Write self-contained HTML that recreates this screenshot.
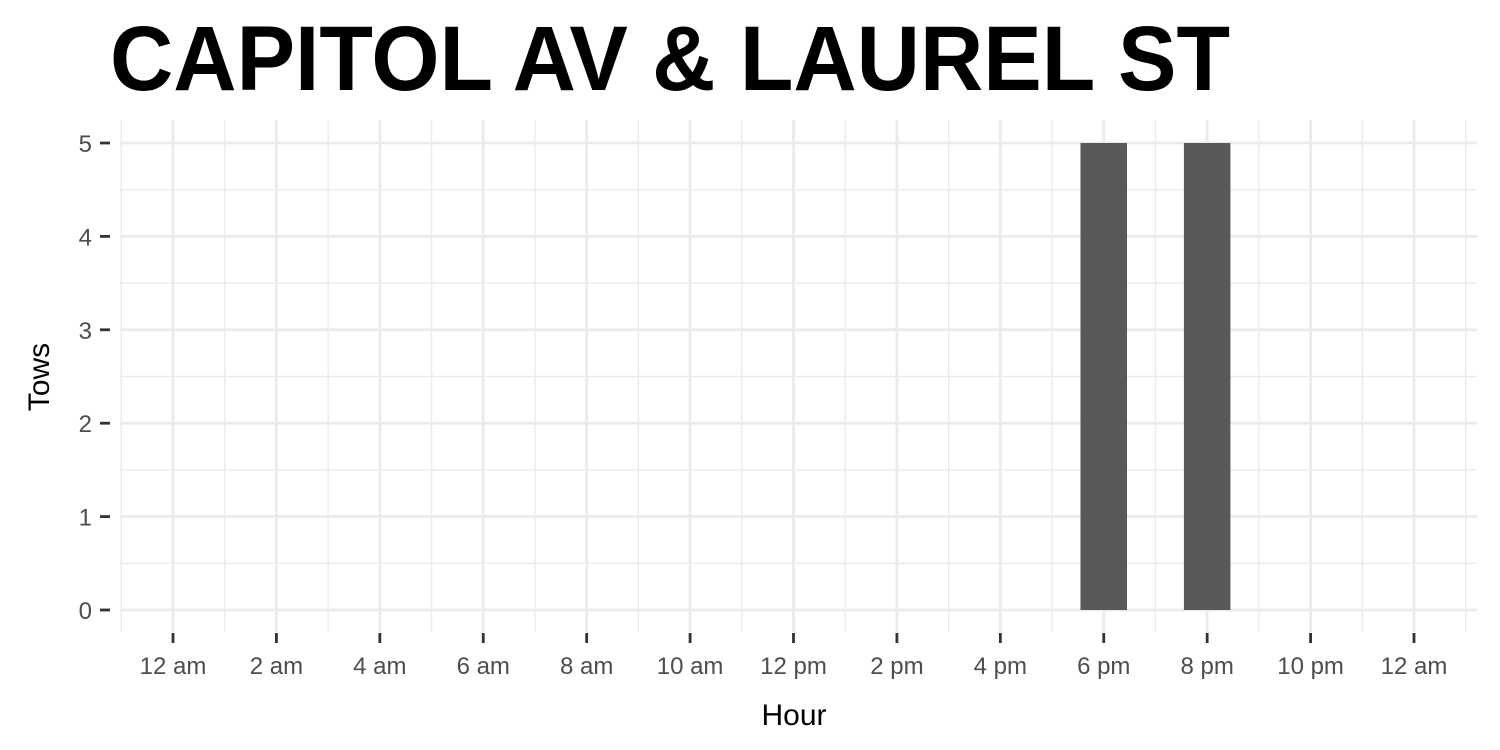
<!DOCTYPE html>
<html><head><meta charset="utf-8"><style>
html,body{margin:0;padding:0;background:#fff;}
svg{display:block;font-family:"Liberation Sans",sans-serif;}
</style></head><body>
<svg id="chart" width="1500" height="750" viewBox="0 0 1500 750">
<text x="110" y="90" font-size="92" font-weight="bold" fill="#000" textLength="1120" lengthAdjust="spacingAndGlyphs">CAPITOL AV &amp; LAUREL ST</text>
<g id="grid"></g>
<g id="bars"></g>
<g id="axes"></g>
<text x="794" y="725" font-size="30" text-anchor="middle" fill="#000">Hour</text>
<text transform="translate(49,377) rotate(-90)" font-size="30" text-anchor="middle" fill="#000">Tows</text>
</svg>
<script>
const hours = [0,1,2,3,4,5,6,7,8,9,10,11,12,13,14,15,16,17,18,19,20,21,22,23];
const tows  = [0,0,0,0,0,0,0,0,0,0,0,0,0,0,0,0,0,0,5,0,5,0,0,0];
const xTickValues = [0,2,4,6,8,10,12,14,16,18,20,22,24];
const xTickLabels = ["12 am","2 am","4 am","6 am","8 am","10 am","12 pm","2 pm","4 pm","6 pm","8 pm","10 pm","12 am"];
const yTickValues = [0,1,2,3,4,5];

const NS="http://www.w3.org/2000/svg";
const panel={l:120,r:1477,t:120,b:632};
const x=h=>173+h*(1414-173)/24;
const y=v=>610-v*(610-143)/5;
function mk(tag,attrs,parent){const e=document.createElementNS(NS,tag);for(const k in attrs)e.setAttribute(k,attrs[k]);parent.appendChild(e);return e;}
const grid=document.getElementById('grid'),bars=document.getElementById('bars'),axes=document.getElementById('axes');

// minor gridlines
for(let h=-1;h<=25;h+=2){const gx=x(h);if(gx<panel.l-1||gx>panel.r+1)continue;
 const l=mk('line',{x1:gx,x2:gx,y1:panel.t,y2:panel.b,stroke:'#ebebeb','stroke-width':1.4},grid);
 }
for(let v=0.5;v<5.5;v+=1){const l=mk('line',{x1:panel.l,x2:panel.r,y1:y(v),y2:y(v),stroke:'#ebebeb','stroke-width':1.4},grid);
 }
// major
xTickValues.forEach(h=>{const l=mk('line',{x1:x(h),x2:x(h),y1:panel.t,y2:panel.b,stroke:'#ebebeb','stroke-width':2.8},grid);
 });
yTickValues.forEach(v=>{const l=mk('line',{x1:panel.l,x2:panel.r,y1:y(v),y2:y(v),stroke:'#ebebeb','stroke-width':2.8},grid);
 });

// bars
const bw=0.9*(x(1)-x(0));
hours.forEach((h,i)=>{if(!tows[i])return;
 const r=mk('rect',{x:x(h)-bw/2,y:y(tows[i]),width:bw,height:y(0)-y(tows[i]),fill:'#595959'},bars);
 });

// axes
yTickValues.forEach(v=>{
 const t=mk('line',{x1:100,x2:110,y1:y(v),y2:y(v),stroke:'#333','stroke-width':2.8},axes);
 
 const s=mk('text',{x:92,y:y(v)+9,'font-size':24,'text-anchor':'end',fill:'#4d4d4d'},axes);s.textContent=v;
 });
xTickValues.forEach((h,i)=>{
 const t=mk('line',{x1:x(h),x2:x(h),y1:633,y2:643,stroke:'#333','stroke-width':2.8},axes);
 
 const s=mk('text',{x:x(h),y:674,'font-size':24,'text-anchor':'middle',fill:'#4d4d4d'},axes);s.textContent=xTickLabels[i];
 });
</script>
</body></html>
